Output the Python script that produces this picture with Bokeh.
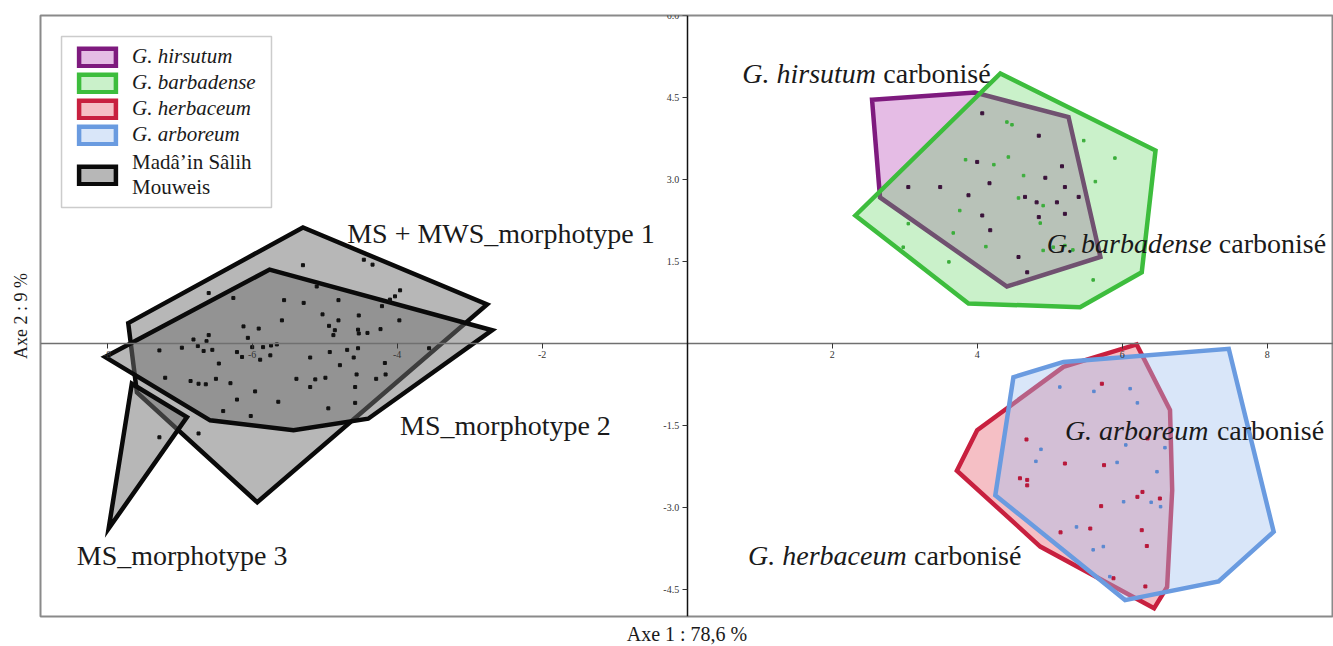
from bokeh.plotting import figure
from bokeh.models import (Range1d, LinearAxis, FixedTicker, NumeralTickFormatter,
                          Legend, LegendItem, BoxAnnotation)
from bokeh.core.properties import value
from bokeh.embed import file_html
from bokeh.resources import INLINE

SERIF = "Liberation Serif"

# ---------------- data (PCA scores, Axe 1 / Axe 2) ----------------
x_ticks = [-8, -6, -4, -2, 2, 4, 6, 8]
y_ticks = [-4.5, -3.0, -1.5, 1.5, 3.0, 4.5, 6.0]

# convex hulls
hirsutum_x = [2.55, 3.97, 5.26, 5.70, 4.41, 2.66]
hirsutum_y = [4.46, 4.59, 4.14, 1.58, 1.04, 2.67]
barbadense_x = [4.32, 6.46, 6.27, 5.42, 3.88, 2.32]
barbadense_y = [4.94, 3.53, 1.30, 0.66, 0.73, 2.34]
herbaceum_x = [6.20, 6.66, 6.69, 6.62, 6.44, 4.87, 3.72, 4.00, 5.19]
herbaceum_y = [-0.02, -1.22, -2.69, -4.46, -4.85, -3.72, -2.33, -1.59, -0.43]
arboreum_x = [7.47, 8.09, 7.33, 6.04, 4.25, 4.50, 5.19]
arboreum_y = [-0.10, -3.45, -4.36, -4.70, -2.78, -0.62, -0.34]
ms_morpho1_x = [-7.71, -5.30, -2.76, -5.93, -7.59]
ms_morpho1_y = [0.37, 2.12, 0.71, -2.91, -0.90]
ms_morpho2_x = [-8.03, -5.76, -2.69, -4.40, -5.43, -6.58]
ms_morpho2_y = [-0.25, 1.35, 0.24, -1.38, -1.59, -1.41]
ms_morpho3_x = [-7.66, -6.90, -7.98]
ms_morpho3_y = [-0.74, -1.35, -3.39]

# individual specimens
hirsutum_pts_x = [4.07, 4.85, 4.00, 5.17, 3.05, 3.49, 4.17, 4.94, 5.21, 3.88,
                  4.66, 4.82, 5.10, 5.40, 4.07, 5.21, 4.18, 4.57, 4.69, 4.85]
hirsutum_pts_y = [4.21, 3.80, 3.32, 3.24, 2.86, 2.86, 2.93, 3.03, 2.86, 2.71,
                  2.68, 2.58, 2.58, 2.68, 2.34, 2.37, 2.07, 1.58, 1.30, 2.31]
barbadense_pts_x = [4.41, 4.48, 5.47, 5.90, 3.84, 4.23, 4.43, 4.64, 5.63, 4.57, 4.91, 3.76,
                    3.67, 4.12, 4.91, 5.05, 5.21, 5.32, 2.98, 3.61, 5.60, 3.05, 4.87]
barbadense_pts_y = [4.05, 4.00, 3.71, 3.39, 3.36, 3.27, 3.41, 3.07, 2.96, 2.66, 2.52, 2.43,
                    2.02, 1.77, 1.70, 1.76, 1.79, 1.71, 1.76, 1.49, 1.16, 2.19, 2.20]
herbaceum_pts_x = [5.72, 4.68, 5.21, 5.75, 6.35, 4.59, 4.69, 4.69, 6.21,
                   6.28, 5.71, 6.52, 5.56, 5.15, 6.27, 6.34, 6.32, 5.88]
herbaceum_pts_y = [-0.74, -1.76, -2.20, -2.23, -1.74, -2.47, -2.50, -2.60, -2.81,
                   -2.72, -2.98, -2.84, -3.39, -3.46, -3.42, -3.71, -4.45, -4.30]
arboreum_pts_x = [5.14, 5.61, 6.11, 6.21, 4.88, 6.05, 6.59, 4.81, 5.93,
                  6.48, 6.02, 6.40, 6.53, 5.37, 5.74, 5.83, 5.60]
arboreum_pts_y = [-0.80, -0.88, -0.83, -1.09, -1.94, -1.86, -1.91, -2.16, -2.18,
                  -2.35, -2.90, -2.91, -2.99, -3.36, -3.72, -4.27, -3.78]
ms_pts_x = [-5.30, -4.46, -4.34, -6.60, -6.26, -5.56, -5.29, -4.81, -5.11, -3.96,
            -4.03, -4.10, -4.21, -4.53, -3.97, -5.59, -5.03, -4.81, -6.12, -5.91,
            -4.94, -4.86, -4.88, -4.54, -4.53, -4.41, -4.23, -6.60, -6.81, -6.63,
            -6.06, -6.75, -7.28, -6.97, -6.67, -6.55, -6.21, -6.00, -5.85, -5.74,
            -5.66, -6.14, -5.89, -5.75, -6.46, -5.20, -4.93, -4.69, -4.60, -4.79,
            -4.54, -3.56, -4.17, -7.20, -6.85, -6.74, -6.64, -6.50, -6.30, -5.39,
            -5.13, -4.99, -5.20, -5.96, -4.56, -4.58, -4.29, -4.16, -6.21, -5.64,
            -4.58, -4.95, -6.40, -6.02, -7.28, -6.74]
ms_pts_y = [1.43, 1.53, 1.44, 0.92, 0.83, 0.79, 0.74, 0.79, 1.04, 0.97,
            0.86, 0.80, 0.68, 0.51, 0.42, 0.42, 0.53, 0.42, 0.31, 0.27,
            0.32, 0.24, 0.15, 0.25, 0.18, 0.19, 0.26, 0.15, 0.07, 0.04,
            0.10, -0.05, -0.13, -0.08, -0.14, -0.12, -0.16, -0.07, -0.07, -0.04,
            -0.02, -0.25, -0.30, -0.22, -0.37, -0.26, -0.16, -0.12, -0.26, -0.40,
            -0.09, -0.09, -0.36, -0.63, -0.69, -0.74, -0.75, -0.65, -0.73, -0.65,
            -0.66, -0.63, -0.80, -0.88, -0.57, -0.80, -0.65, -0.57, -1.03, -1.07,
            -1.09, -1.19, -1.24, -1.33, -1.72, -1.65]

# annotations
ms_labels = ["MS + MWS_morphotype 1", "MS_morphotype 2", "MS_morphotype 3"]
ms_label_x = [-4.69, -3.96, -8.42]
ms_label_y = [2.01, -1.50, -3.88]
sp_labels = ["G. hirsutum", "G. barbadense", "G. arboreum", "G. herbaceum"]
sp_suffix = ["carbonisé", "carbonisé", "carbonisé", "carbonisé"]
sp_label_x = [0.76, 4.96, 5.21, 0.84]
sp_label_y = [4.94, 1.83, -1.59, -3.88]
sp_suffix_offset = [141, 172, 152, 166]

legend_labels = ["G. hirsutum", "G. barbadense", "G. herbaceum", "G. arboreum",
                 "Madâ’in Sâlih\nMouweis"]

# ---------------- styles ----------------
C_H_LINE, C_H_FILL = "#7e1a7e", "#c060c0"
C_B_LINE, C_B_FILL = "#3dbd3d", "#50d050"
C_R_LINE, C_R_FILL = "#c8203f", "#e8707f"
C_A_LINE, C_A_FILL = "#6a9be0", "#a0c0f0"

p = figure(frame_width=1293, frame_height=601,
           x_range=Range1d(-8.92, 8.915), y_range=Range1d(-5.0, 6.0),
           x_axis_location=None, y_axis_location=None,
           toolbar_location=None, output_backend="svg",
           min_border_left=40, min_border_right=0, min_border_top=15, min_border_bottom=30,
           background_fill_color="white", border_fill_color="white")
p.grid.visible = False
p.outline_line_color = "#8a8a8a"
p.outline_line_width = 2

# centred axes
xa = LinearAxis(fixed_location=0, ticker=FixedTicker(ticks=x_ticks),
                formatter=NumeralTickFormatter(format="0"))
ya = LinearAxis(fixed_location=0, ticker=FixedTicker(ticks=y_ticks),
                formatter=NumeralTickFormatter(format="0.0"))
for ax in (xa, ya):
    ax.major_label_text_font = SERIF
    ax.major_label_text_font_size = "10px"
    ax.major_label_text_color = "#333333"
    ax.major_tick_in = 0
    ax.major_tick_out = 5
    ax.minor_tick_line_color = None
    ax.major_label_standoff = 3
xa.axis_line_color = "#707070"
xa.axis_line_width = 1.5
xa.major_tick_line_color = "#333333"
ya.axis_line_color = "#111111"
ya.axis_line_width = 1.5
ya.major_tick_line_color = "#333333"
p.add_layout(xa, "below")
p.add_layout(ya, "left")

# outer axis titles
def title_axis(label):
    a = LinearAxis(ticker=FixedTicker(ticks=[]), axis_label=label)
    a.axis_line_color = None
    a.major_tick_line_color = None
    a.minor_tick_line_color = None
    a.major_tick_out = 0
    a.minor_tick_out = 0
    a.major_label_text_font_size = "1px"
    a.axis_label_text_font = SERIF
    a.axis_label_text_font_style = "normal"
    a.axis_label_text_color = "#1a1a1a"
    a.axis_label_standoff = 2
    return a

xt = title_axis("Axe 1 : 78,6 %")
xt.axis_label_text_font_size = "20px"
xt.axis_label_standoff = 6
yt = title_axis("Axe 2 : 9 %")
yt.axis_label_text_font_size = "18px"
yt.axis_label_standoff = 10
p.add_layout(xt, "below")
p.add_layout(yt, "left")

LW = 4.5
r_h = p.patch(hirsutum_x, hirsutum_y, fill_color=C_H_FILL, fill_alpha=0.42,
              line_color=C_H_LINE, line_width=LW, line_join="miter")
r_b = p.patch(barbadense_x, barbadense_y, fill_color=C_B_FILL, fill_alpha=0.3,
              line_color=C_B_LINE, line_width=LW, line_join="miter")
r_r = p.patch(herbaceum_x, herbaceum_y, fill_color=C_R_FILL, fill_alpha=0.45,
              line_color=C_R_LINE, line_width=LW, line_join="miter")
r_a = p.patch(arboreum_x, arboreum_y, fill_color=C_A_FILL, fill_alpha=0.4,
              line_color=C_A_LINE, line_width=LW, line_join="miter")
r_ms = p.patches([ms_morpho1_x, ms_morpho2_x, ms_morpho3_x],
                 [ms_morpho1_y, ms_morpho2_y, ms_morpho3_y],
                 fill_color="#707070", fill_alpha=0.5,
                 line_color="#0a0a0a", line_width=LW, line_join="miter")

PS = 3
p.scatter(hirsutum_pts_x, hirsutum_pts_y, marker="square", size=PS, color="#3a123a")
p.scatter(barbadense_pts_x, barbadense_pts_y, marker="square", size=2.5, color="#3cae3c")
p.scatter(herbaceum_pts_x, herbaceum_pts_y, marker="square", size=PS, color="#b8183a")
p.scatter(arboreum_pts_x, arboreum_pts_y, marker="square", size=2.5, color="#5a88d0")
p.scatter(ms_pts_x, ms_pts_y, marker="square", size=PS, color="#111111")

p.text(x=ms_label_x, y=ms_label_y, text=ms_labels, text_font=value(SERIF),
       text_font_size="28px", text_color="#1a1a1a",
       text_baseline="alphabetic", text_align="left")
p.text(x=sp_label_x, y=sp_label_y, text=sp_labels, text_font=value(SERIF),
       text_font_size="28px", text_font_style="italic", text_color="#1a1a1a",
       text_baseline="alphabetic", text_align="left")
p.text(x=sp_label_x, y=sp_label_y, text=sp_suffix, x_offset=sp_suffix_offset,
       text_font=value(SERIF), text_font_size="28px", text_color="#1a1a1a",
       text_baseline="alphabetic", text_align="left")

# legend frame
box = BoxAnnotation(left=-8.63, right=-5.734, top=5.616, bottom=2.486,
                    fill_color="white", fill_alpha=1.0,
                    line_color="#555555", line_width=1.5)
p.add_layout(box)

common = dict(label_text_font=SERIF, label_text_font_size="21px",
              label_text_color="#1a1a1a", glyph_width=46, glyph_height=22,
              spacing=1, padding=8, margin=0, label_standoff=12,
              border_line_alpha=0, background_fill_alpha=0)
leg1 = Legend(items=[LegendItem(label=legend_labels[0], renderers=[r_h]),
                     LegendItem(label=legend_labels[1], renderers=[r_b]),
                     LegendItem(label=legend_labels[2], renderers=[r_r]),
                     LegendItem(label=legend_labels[3], renderers=[r_a])],
              location=(26, 461), label_text_font_style="italic", **common)
leg2 = Legend(items=[LegendItem(label=legend_labels[4], renderers=[r_ms])],
              location=(26, 408), label_text_font_style="normal",
              label_text_line_height=1.3, **common)
p.add_layout(leg1)
p.add_layout(leg2)

open("out.html", "w").write(file_html(p, INLINE))
